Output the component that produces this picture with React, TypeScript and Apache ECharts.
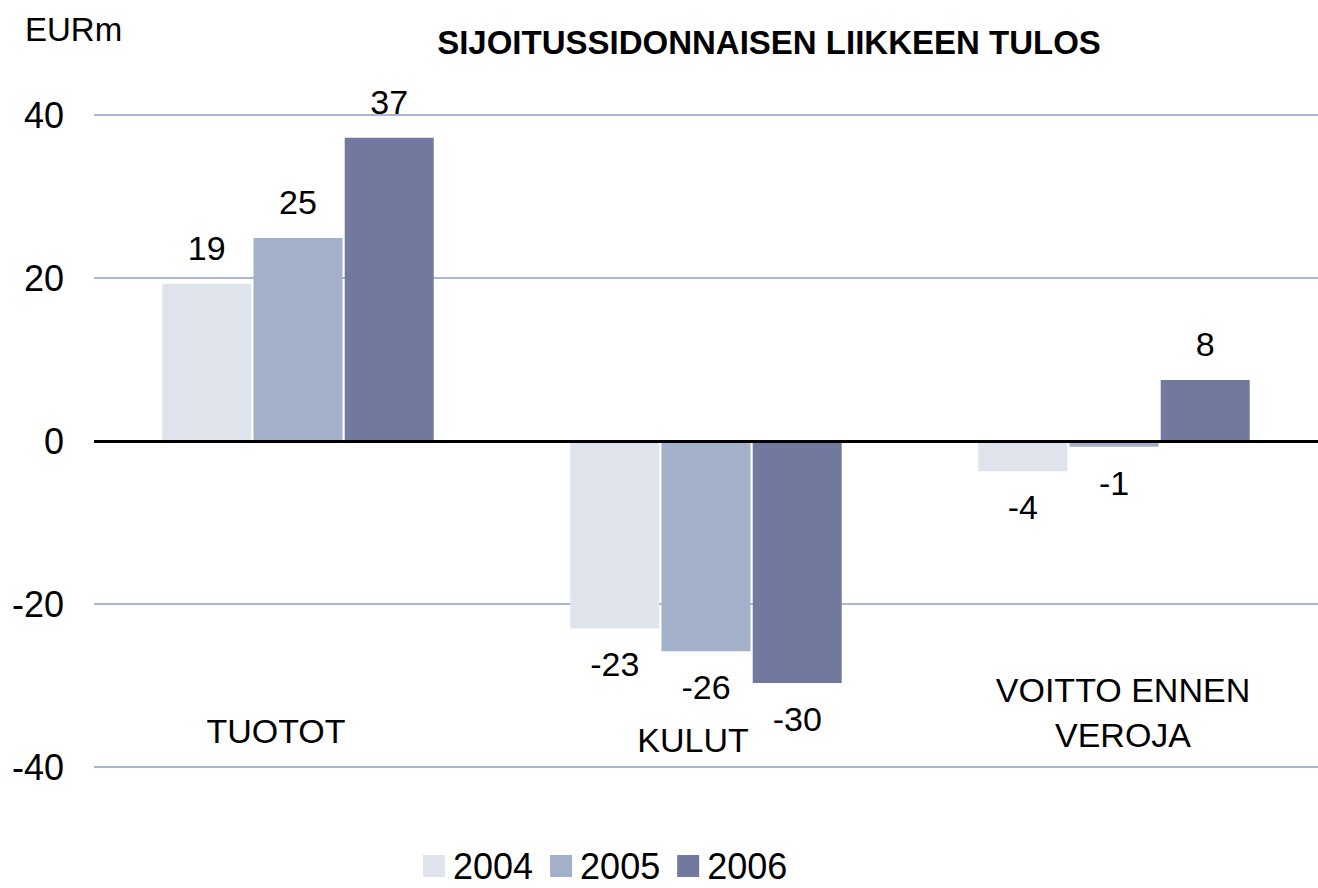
import React, { useEffect, useRef } from "react";
import * as echarts from "echarts";

const categories = ["TUOTOT", "KULUT", "VOITTO ENNEN\nVEROJA"];
const years = ["2004", "2005", "2006"];
const values2004 = [19.3, -23.0, -3.7];
const values2005 = [24.9, -25.8, -0.7];
const values2006 = [37.2, -29.7, 7.5];
const yTicks = { min: -40, max: 40, interval: 20 };
const colors = ["#dfe3ec", "#a3b0ca", "#717a9e"];

const FONT = "'Liberation Sans', Arial, sans-serif";

export default function App() {
  const ref = useRef<HTMLDivElement>(null);
  useEffect(() => {
    if (!ref.current) return;
    const chart = echarts.init(ref.current, null, { renderer: "svg" });
    const seriesValues = [values2004, values2005, values2006];
    const series: any[] = seriesValues.map((vals, i) => ({
      name: years[i],
      type: "bar",
      barWidth: 89,
      barGap: "2.5%",
      itemStyle: { color: colors[i] },
      data: vals.map((v) => ({
        value: v,
        label: { position: v >= 0 ? "top" : "bottom" },
      })),
      label: {
        show: true,
        distance: 19,
        fontSize: 34,
        fontFamily: FONT,
        color: "#000",
        formatter: (p: any) => String(Math.round(p.value)),
      },
    }));
    series[0].markLine = {
      silent: true,
      symbol: "none",
      label: { show: false },
      lineStyle: { color: "#000", width: 3, type: "solid" },
      data: [{ yAxis: 0 }],
    };
    const richBase = { fontSize: 34, fontFamily: FONT, color: "#000" };
    chart.setOption({
      animation: false,
      backgroundColor: "#fff",
      title: [
        {
          text: "SIJOITUSSIDONNAISEN LIIKKEEN TULOS",
          left: 764,
          textAlign: "center",
          top: 21,
          textStyle: {
            fontSize: 33,
            fontWeight: "bold",
            fontFamily: FONT,
            color: "#000",
          },
        },
        {
          text: "EURm",
          left: 20,
          top: 8,
          textStyle: {
            fontSize: 33,
            fontWeight: "normal",
            fontFamily: FONT,
            color: "#000",
          },
        },
      ],
      legend: {
        left: 418,
        top: 843,
        icon: "rect",
        itemWidth: 22,
        itemHeight: 22,
        itemGap: 17,
        data: years,
        textStyle: {
          fontSize: 36,
          fontFamily: FONT,
          color: "#000",
          padding: [0, 0, 0, 3],
        },
      },
      grid: { left: 94, right: 0, top: 115, bottom: 121, containLabel: false },
      xAxis: {
        type: "category",
        data: categories,
        axisLine: { show: false },
        axisTick: { show: false },
        splitLine: { show: false },
        axisLabel: {
          inside: true,
          margin: 10,
          verticalAlign: "bottom",
          formatter: (v: string, idx: number) =>
            v
              .split("\n")
              .map((line) => `{c${idx}|${line}}`)
              .join("\n"),
          rich: {
            c0: { ...richBase, padding: [0, 44, 9, 0] },
            c1: { ...richBase, padding: [0, 26, 0, 0] },
            c2: { ...richBase, lineHeight: 45, padding: [0, 0, 0, 18] },
          },
        },
      },
      yAxis: {
        type: "value",
        min: yTicks.min,
        max: yTicks.max,
        interval: yTicks.interval,
        axisLine: { show: false },
        axisTick: { show: false },
        axisLabel: {
          fontSize: 36,
          fontFamily: FONT,
          color: "#000",
          margin: 30,
        },
        splitLine: { lineStyle: { color: "#aab7d3", width: 2 } },
      },
      series,
    });
    return () => chart.dispose();
  }, []);
  return (
    <div
      ref={ref}
      style={{ position: "absolute", left: 0, top: 0, width: 1318, height: 888 }}
    />
  );
}
